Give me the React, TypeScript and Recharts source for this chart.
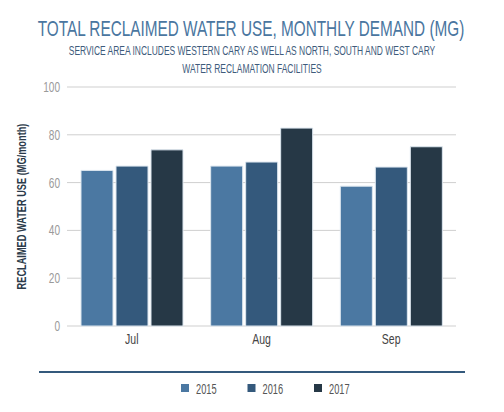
import React from "react";
import { BarChart, Bar, XAxis, YAxis, CartesianGrid } from "recharts";

const months = ["Jul", "Aug", "Sep"];
const use2015 = [65.1, 66.9, 58.5];
const use2016 = [66.9, 68.6, 66.5];
const use2017 = [73.7, 82.8, 75.0];
const yTicks = [0, 20, 40, 60, 80, 100];

const seriesNames = ["2015", "2016", "2017"];
const seriesColors = ["#4b78a2", "#34597c", "#263846"];

const FONT = "'Liberation Sans', Arial, sans-serif";

const rows = months.map((m, i) => ({
  month: m,
  y2015: use2015[i],
  y2016: use2016[i],
  y2017: use2017[i],
}));

// narrow text: the original uses a condensed face, so squeeze horizontally
const NText = ({ x, y, sx = 0.7, anchor = "middle", size, fill, weight, rotate, children }: any) => (
  <g transform={`translate(${x},${y})${rotate ? ` rotate(${rotate})` : ""} scale(${sx},1)`}>
    <text x={0} y={0} textAnchor={anchor} fontFamily={FONT} fontSize={size} fill={fill} fontWeight={weight}>
      {children}
    </text>
  </g>
);

const YTick = (props: any) => (
  <NText x={props.x} y={props.y + 5} anchor="end" sx={0.72} size={14} fill="#9a9a9a">
    {props.payload.value}
  </NText>
);

const XTick = (props: any) => (
  <NText x={props.x} y={props.y + 10} sx={0.75} size={14} fill="#444">
    {props.payload.value}
  </NText>
);

const YLabel = (props: any) => {
  const vb = props.viewBox || {};
  const cy = vb.y + vb.height / 2;
  return (
    <NText x={25.5} y={cy} rotate={-90} sx={0.71} size={13} weight="bold" fill="#2b3a4a">
      RECLAIMED WATER USE (MG/month)
    </NText>
  );
};

export default function App() {
  return (
    <div style={{ position: "absolute", left: 0, top: 0, width: 504, height: 412, background: "#fff" }}>
      <svg width={504} height={412} style={{ position: "absolute", left: 0, top: 0 }}>
        <NText x={251} y={36} sx={0.697} size={22} fill="#4a76a0">
          TOTAL RECLAIMED WATER USE, MONTHLY DEMAND (MG)
        </NText>
        <NText x={252} y={55} sx={0.627} size={13.5} fill="#3e5b7b">
          SERVICE AREA INCLUDES WESTERN CARY AS WELL AS NORTH, SOUTH AND WEST CARY
        </NText>
        <NText x={252} y={72.5} sx={0.627} size={13.5} fill="#3e5b7b">
          WATER RECLAMATION FACILITIES
        </NText>
        <line x1={39} x2={465} y1={372} y2={372} stroke="#34597c" strokeWidth={2} />
      </svg>
      <div style={{ position: "absolute", left: 0, top: 0 }}>
        <BarChart
          width={504}
          height={412}
          data={rows}
          margin={{ top: 87, right: 48, bottom: 56, left: 0 }}
          barCategoryGap={14}
          barGap={3}
        >
          <CartesianGrid vertical={false} stroke="#cfcfcf" />
          <XAxis
            dataKey="month"
            height={30}
            axisLine={false}
            tickLine={false}
            tick={<XTick />}
            tickMargin={2}
          />
          <YAxis
            width={67}
            domain={[0, 100]}
            ticks={yTicks}
            axisLine={false}
            tickLine={false}
            tick={<YTick />}
            tickMargin={1}
            label={<YLabel />}
          />
          <Bar dataKey="y2015" fill={seriesColors[0]} stroke="#dce6ef" strokeWidth={1} isAnimationActive={false} />
          <Bar dataKey="y2016" fill={seriesColors[1]} stroke="#dce6ef" strokeWidth={1} isAnimationActive={false} />
          <Bar dataKey="y2017" fill={seriesColors[2]} stroke="#dce6ef" strokeWidth={1} isAnimationActive={false} />
        </BarChart>
      </div>
      <svg width={504} height={412} style={{ position: "absolute", left: 0, top: 0, pointerEvents: "none" }}>
        {seriesNames.map((name, i) => {
          const x = 181 + i * 66.5;
          return (
            <g key={name}>
              <rect x={x} y={384} width={8} height={8} fill={seriesColors[i]} />
              <NText x={x + 15} y={393.5} anchor="start" sx={0.66} size={14} fill="#555">
                {name}
              </NText>
            </g>
          );
        })}
      </svg>
    </div>
  );
}
